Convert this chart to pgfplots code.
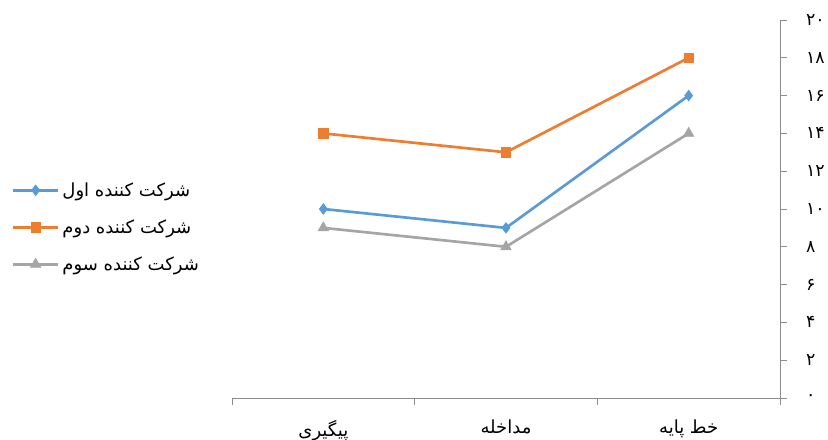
\documentclass[border=0pt]{standalone}
\usepackage{fontspec}
\usepackage{pgfplots}
\pgfplotsset{compat=1.18}
\TeXXeTstate=1
\newfontfamily\arabicfont[Script=Arabic]{DejaVu Sans}
\definecolor{sblue}{HTML}{5B9BD5}
\definecolor{sorange}{HTML}{ED7D31}
\definecolor{sgray}{HTML}{A5A5A5}
\definecolor{axgray}{HTML}{8C8C8C}
\begin{document}
\begin{tikzpicture}
% page is 828x439 px, 1px = 0.75pt
\clip (0,0) rectangle (621pt,329.25pt);
\path[use as bounding box] (0,0) rectangle (621pt,329.25pt);
\begin{axis}[
    at={(174pt,30.75pt)}, anchor=south west,
    scale only axis,
    width=411pt, height=283.5pt,
    xmin=0, xmax=3, ymin=0, ymax=20,
    axis x line*=bottom,
    axis y line*=right,
    axis line style={axgray, line width=0.6pt},
    tick style={axgray, line width=0.6pt},
    tick align=outside,
    major tick length=5pt,
    xtick={0,1,2,3},
    x tick label as interval=true,
    xticklabels={{\arabicfont\beginR پیگیری\endR},{\arabicfont\beginR مداخله\endR},{\arabicfont\beginR خط پایه\endR}},
    xticklabel style={font=\fontsize{13.5}{15}\selectfont, yshift=-8pt},
    ytick={0,2,...,20},
    yticklabels={۰,۲,۴,۶,۸,۱۰,۱۲,۱۴,۱۶,۱۸,۲۰},
    yticklabel style={font=\arabicfont\fontsize{13}{14}\selectfont, xshift=11pt},
    clip=false,
    legend cell align=left,
    legend style={draw=none, fill=none,
        at={(-0.41,0.585)}, anchor=north west,
        font=\fontsize{13.5}{15}\selectfont,
        row sep=12pt},
    legend image code/.code={
        \draw[mark repeat=2,mark phase=2,#1]
            plot coordinates {(0cm,0cm) (0.6cm,0cm) (1.2cm,0cm)};},
]
\addplot[sblue, line width=2pt, mark=diamond*, mark size=4pt,
    mark options={fill=sblue, line width=0.5pt}]
    coordinates {(0.5,10) (1.5,9) (2.5,16)};
\addlegendentry{\arabicfont\beginR شرکت کننده اول\endR}
\addplot[sorange, line width=2pt, mark=square*, mark size=3.5pt,
    mark options={fill=sorange, line width=0.5pt}]
    coordinates {(0.5,14) (1.5,13) (2.5,18)};
\addlegendentry{\arabicfont\beginR شرکت کننده دوم\endR}
\addplot[sgray, line width=2pt, mark=triangle*, mark size=4.5pt,
    mark options={fill=sgray, line width=0.5pt}]
    coordinates {(0.5,9) (1.5,8) (2.5,14)};
\addlegendentry{\arabicfont\beginR شرکت کننده سوم\endR}
\end{axis}
\end{tikzpicture}
\end{document}
